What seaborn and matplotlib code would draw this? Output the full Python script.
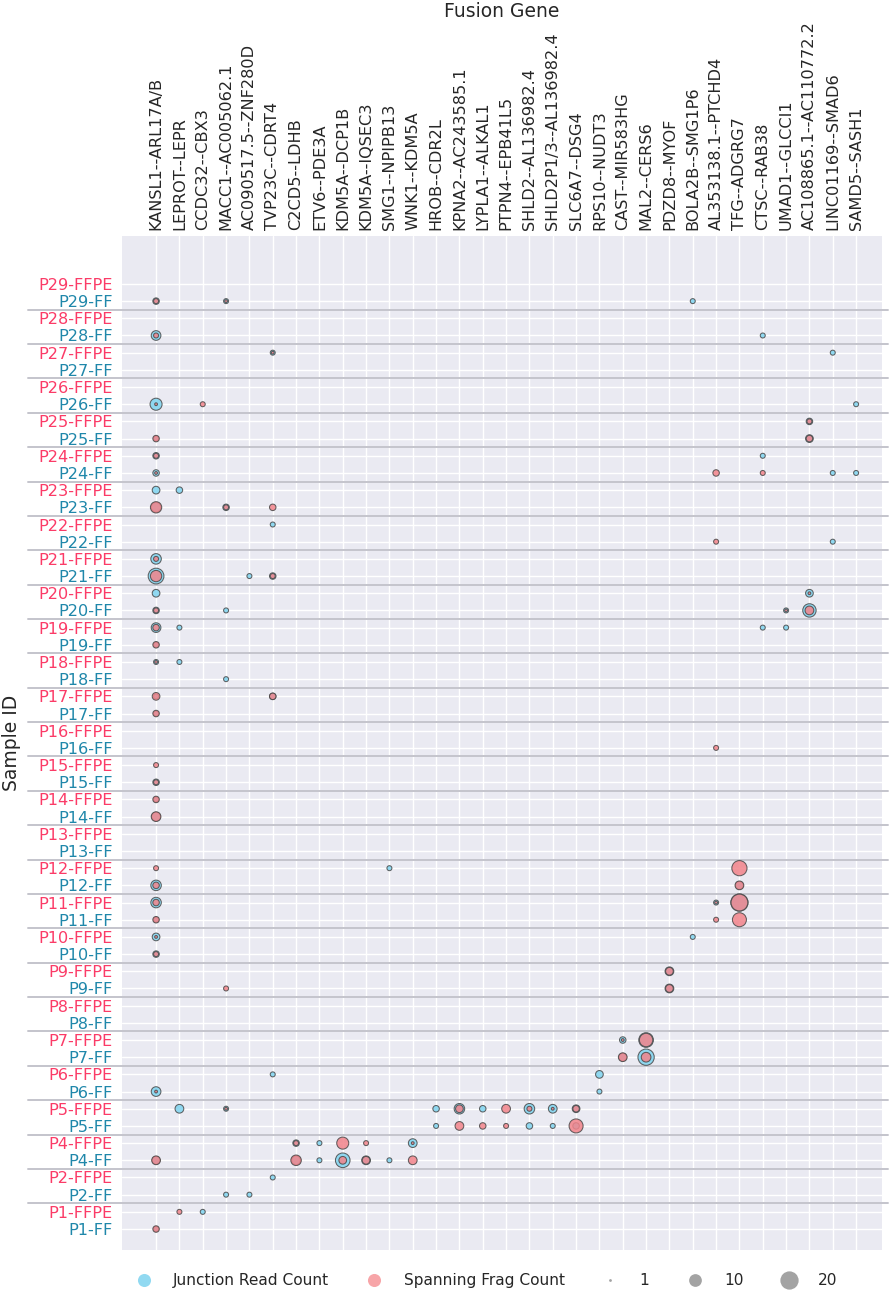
import numpy as np
import pandas as pd
import matplotlib
matplotlib.use("Agg")
import matplotlib.pyplot as plt
import seaborn as sns
from matplotlib.lines import Line2D

# ---------------- data ----------------
fusion_genes = [
    "KANSL1--ARL17A/B", "LEPROT--LEPR", "CCDC32--CBX3", "MACC1--AC005062.1",
    "AC090517.5--ZNF280D", "TVP23C--CDRT4", "C2CD5--LDHB", "ETV6--PDE3A",
    "KDM5A--DCP1B", "KDM5A--IQSEC3", "SMG1--NPIPB13", "WNK1--KDM5A",
    "HROB--CDR2L", "KPNA2--AC243585.1", "LYPLA1--ALKAL1", "PTPN4--EPB41L5",
    "SHLD2--AL136982.4", "SHLD2P1/3--AL136982.4", "SLC6A7--DSG4", "RPS10--NUDT3",
    "CAST--MIR583HG", "MAL2--CERS6", "PDZD8--MYOF", "BOLA2B--SMG1P6",
    "AL353138.1--PTCHD4", "TFG--ADGRG7", "CTSC--RAB38", "UMAD1--GLCCI1",
    "AC108865.1--AC110772.2", "LINC01169--SMAD6", "SAMD5--SASH1",
]

patients = ["P29", "P28", "P27", "P26", "P25", "P24", "P23", "P22", "P21", "P20",
            "P19", "P18", "P17", "P16", "P15", "P14", "P13", "P12", "P11", "P10",
            "P9", "P8", "P7", "P6", "P5", "P4", "P2", "P1"]
sample_types = ["FFPE", "FF"]

# detected fusions: sample, fusion gene index, junction read count, spanning frag count
fus_sample = [
    "P29-FF", "P29-FF", "P29-FF",
    "P28-FF", "P28-FF",
    "P27-FFPE", "P27-FFPE",
    "P26-FF", "P26-FF", "P26-FF",
    "P25-FFPE",
    "P25-FF", "P25-FF",
    "P24-FFPE", "P24-FFPE",
    "P24-FF", "P24-FF", "P24-FF", "P24-FF", "P24-FF",
    "P23-FFPE", "P23-FFPE",
    "P23-FF", "P23-FF", "P23-FF",
    "P22-FFPE",
    "P22-FF", "P22-FF",
    "P21-FFPE",
    "P21-FF", "P21-FF", "P21-FF",
    "P20-FFPE", "P20-FFPE",
    "P20-FF", "P20-FF", "P20-FF", "P20-FF",
    "P19-FFPE", "P19-FFPE", "P19-FFPE", "P19-FFPE",
    "P19-FF",
    "P18-FFPE", "P18-FFPE",
    "P18-FF",
    "P17-FFPE", "P17-FFPE",
    "P17-FF",
    "P16-FF",
    "P15-FFPE",
    "P15-FF",
    "P14-FFPE",
    "P14-FF",
    "P12-FFPE", "P12-FFPE", "P12-FFPE",
    "P12-FF", "P12-FF",
    "P11-FFPE", "P11-FFPE", "P11-FFPE",
    "P11-FF", "P11-FF", "P11-FF",
    "P10-FFPE", "P10-FFPE",
    "P10-FF",
    "P9-FFPE",
    "P9-FF", "P9-FF",
    "P7-FFPE", "P7-FFPE",
    "P7-FF", "P7-FF",
    "P6-FFPE", "P6-FFPE",
    "P6-FF", "P6-FF",
    "P5-FFPE", "P5-FFPE", "P5-FFPE", "P5-FFPE", "P5-FFPE", "P5-FFPE", "P5-FFPE", "P5-FFPE", "P5-FFPE",
    "P5-FF", "P5-FF", "P5-FF", "P5-FF", "P5-FF", "P5-FF", "P5-FF",
    "P4-FFPE", "P4-FFPE", "P4-FFPE", "P4-FFPE", "P4-FFPE",
    "P4-FF", "P4-FF", "P4-FF", "P4-FF", "P4-FF", "P4-FF", "P4-FF",
    "P2-FFPE",
    "P2-FF", "P2-FF",
    "P1-FFPE", "P1-FFPE",
    "P1-FF",
]
fus_gene = [
    0, 3, 23,
    0, 26,
    5, 29,
    0, 2, 30,
    28,
    0, 28,
    0, 26,
    0, 24, 26, 29, 30,
    0, 1,
    0, 3, 5,
    5,
    24, 29,
    0,
    0, 4, 5,
    0, 28,
    0, 3, 27, 28,
    0, 1, 26, 27,
    0,
    0, 1,
    3,
    0, 5,
    0,
    24,
    0,
    0,
    0,
    0,
    0, 10, 25,
    0, 25,
    0, 24, 25,
    0, 24, 25,
    0, 23,
    0,
    22,
    3, 22,
    20, 21,
    20, 21,
    5, 19,
    0, 19,
    1, 3, 12, 13, 14, 15, 16, 17, 18,
    12, 13, 14, 15, 16, 17, 18,
    6, 7, 8, 9, 11,
    0, 6, 7, 8, 9, 10, 11,
    5,
    3, 4,
    1, 2,
    0,
]
junction_reads = [
    3, 2, 2,
    6, 2,
    2, 2,
    9, 0, 2,
    3,
    2, 4,
    3, 2,
    3, 0, 0, 2, 2,
    4, 3,
    6, 3, 0,
    2,
    0, 2,
    7,
    15, 2, 3,
    4, 4,
    3, 2, 2, 11,
    6, 2, 2, 2,
    2,
    2, 2,
    2,
    2, 3,
    2,
    0,
    0,
    3,
    2,
    5,
    0, 2, 0,
    7, 4,
    7, 2, 18,
    2, 0, 0,
    4, 2,
    3,
    5,
    0, 5,
    3, 13,
    4, 16,
    2, 4,
    6, 2,
    5, 2, 3, 7, 3, 0, 7, 5, 4,
    2, 0, 0, 0, 3, 2, 3,
    3, 2, 0, 0, 5,
    4, 5, 2, 13, 5, 2, 0,
    2,
    2, 2,
    0, 2,
    2,
]
spanning_frags = [
    2, 1, 0,
    2, 0,
    1, 0,
    1, 2, 0,
    2,
    3, 3,
    2, 0,
    1, 3, 2, 0, 0,
    0, 0,
    8, 2, 3,
    0,
    2, 0,
    2,
    8, 0, 2,
    0, 1,
    2, 0, 1, 5,
    3, 0, 0, 0,
    3,
    1, 0,
    0,
    4, 3,
    3,
    2,
    2,
    2,
    3,
    6,
    2, 0, 14,
    3, 5,
    3, 1, 17,
    3, 2, 12,
    1, 0,
    2,
    4,
    2, 4,
    1, 11,
    5, 6,
    0, 0,
    1, 0,
    0, 1, 0, 4, 0, 5, 2, 1, 3,
    0, 5, 3, 2, 0, 0, 12,
    2, 0, 9, 2, 1,
    5, 7, 0, 4, 4, 0, 5,
    0,
    0, 0,
    2, 0,
    3,
]

legend_sizes = [1, 10, 20]

# ---------------- style ----------------
BLUE = "#7ed3ef"
RED = "#f2838a"
FFPE_COLOR = "#fb3b67"
FF_COLOR = "#1f87aa"
SIZE_RANGE = (4, 173)
SIZE_NORM = (1, 20)

sns.set_theme(style="darkgrid")
plt.rcParams["font.family"] = ["DejaVu Sans"]

fig = plt.figure(figsize=(8.92, 12.92), dpi=100)
ax = fig.add_axes([122 / 892, 1 - 1250 / 1292, 760 / 892, (1250 - 236) / 1292])

sample_ids = [f"{p}-{t}" for p in patients for t in sample_types]  # top -> bottom
n_rows = len(sample_ids)
ypos = {s: n_rows - 1 - i for i, s in enumerate(sample_ids)}

df = pd.DataFrame({
    "sample": fus_sample,
    "gene": [fusion_genes[g] for g in fus_gene],
    "junction": junction_reads,
    "spanning": spanning_frags,
})
df["x"] = df["gene"].map({g: i for i, g in enumerate(fusion_genes)})
df["y"] = df["sample"].map(ypos)

for col, color in (("junction", BLUE), ("spanning", RED)):
    sub = df[df[col] > 0]
    sns.scatterplot(data=sub, x="x", y="y", size=col, sizes=SIZE_RANGE,
                    size_norm=SIZE_NORM, color=color, alpha=0.85,
                    edgecolor="#484848", linewidth=0.75, legend=False,
                    ax=ax, zorder=4)

# patient separators
for p in patients[1:]:
    ax.axhline(ypos[f"{p}-FFPE"] + 0.5, xmin=-0.124, xmax=1.008,
               color="#c4c4cc", lw=1.4, clip_on=False, zorder=3)

ax.set_xticks(range(len(fusion_genes)))
ax.set_xticklabels(fusion_genes, rotation=90)
ax.xaxis.tick_top()
ax.xaxis.set_label_position("top")
ax.set_yticks([ypos[s] for s in sample_ids])
ax.set_yticklabels(sample_ids)

ax.set_xlim(-1.46, len(fusion_genes) - 1 + 1.11)
ax.set_ylim(-1.22, n_rows - 1 + 2.79)

ax.tick_params(axis="x", length=0, pad=4.3, labelsize=11.6, colors=".15")
ax.tick_params(axis="y", length=0, pad=6.5, labelsize=11.6)
for lab in ax.get_yticklabels():
    lab.set_color(FFPE_COLOR if lab.get_text().endswith("FFPE") else FF_COLOR)

ax.set_xlabel("Fusion Gene", fontsize=13.5, color=".15")
ax.set_ylabel("Sample ID", fontsize=13.5, color=".15")
ax.xaxis.set_label_coords(0.5, 1.216)
ax.yaxis.set_label_coords(-0.133, 0.5)

for s in ax.spines.values():
    s.set_visible(False)

# legend
def size_of(v):
    lo, hi = SIZE_RANGE
    return lo + (v - SIZE_NORM[0]) / (SIZE_NORM[1] - SIZE_NORM[0]) * (hi - lo)

handles = [
    Line2D([], [], ls="", marker="o", markersize=9.4, markerfacecolor=BLUE,
           markeredgewidth=0, alpha=0.85, label="Junction Read Count"),
    Line2D([], [], ls="", marker="o", markersize=9.4, markerfacecolor="#f7a0a3",
           markeredgewidth=0, alpha=0.95, label="Spanning Frag Count"),
]
for v in legend_sizes:
    handles.append(Line2D([], [], ls="", marker="o", markersize=np.sqrt(size_of(v)),
                          markerfacecolor="#a3a3a3", markeredgewidth=0, label=str(v)))

fig.legend(handles=handles, loc="lower center", bbox_to_anchor=(483 / 892, -0.008),
           ncol=5, frameon=False, fontsize=11.1, handletextpad=0.9, columnspacing=1.95)

fig.savefig("out.png", dpi=100)
